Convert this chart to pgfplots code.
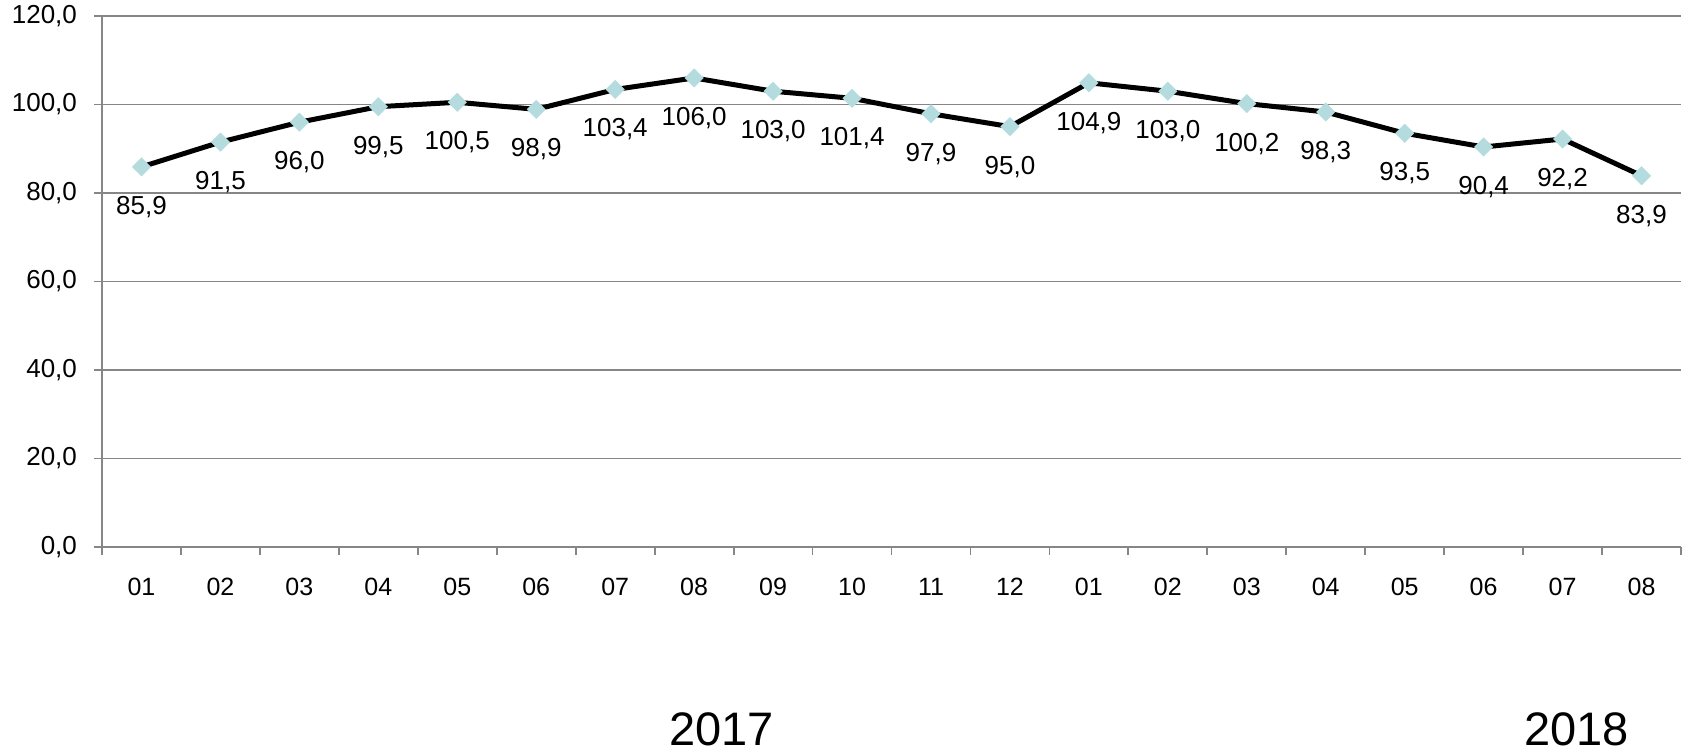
\documentclass[border=0pt]{standalone}
\usepackage{pgfplots}
\pgfplotsset{compat=1.18}
\usepackage{fontspec}
\setmainfont{Liberation Sans}
\definecolor{gridgray}{HTML}{868686}
\definecolor{mk}{HTML}{B4DCDF}
\begin{document}
\begin{tikzpicture}
\begin{axis}[
  scale only axis,
  width=789.5pt, height=265.5pt,
  xmin=0.5, xmax=20.5, ymin=0, ymax=120,
  axis x line*=bottom, axis y line*=left,
  axis line style={gridgray, line width=0.9pt, -},
  ytick={0,20,...,120},
  ymajorgrids, grid style={gridgray, line width=0.9pt},
  xtick={1,...,20},
  xticklabels={01,02,03,04,05,06,07,08,09,10,11,12,01,02,03,04,05,06,07,08},
  major x tick style={draw=none},
  minor xtick={0.5,1.5,...,20.5},
  minor x tick style={gridgray, line width=0.9pt},
  major y tick style={gridgray, line width=0.9pt},
  tick align=outside,
  major tick length=4pt, minor tick length=4pt,
  /pgf/number format/assume math mode=true,
  yticklabel style={/pgf/number format/.cd, fixed, zerofill, precision=1, use comma, /tikz/.cd, font=\fontsize{13}{15}\selectfont, xshift=-5pt},
  xticklabel style={font=\fontsize{12.5}{15}\selectfont, yshift=-8pt},
  nodes near coords,
  nodes near coords style={/pgf/number format/.cd, fixed, zerofill, precision=1, use comma, /tikz/.cd, font=\fontsize{13}{15}\selectfont, anchor=center, yshift=-20pt, text=black},
  clip=false,
]
\addplot[black, line width=2.5pt, mark=square*, mark size=3.3pt, mark options={rotate=45, fill=mk, draw=mk, line width=0.1pt}] coordinates {
(1,85.9) (2,91.5) (3,96.0) (4,99.5) (5,100.5) (6,98.9) (7,103.4) (8,106.0) (9,103.0) (10,101.4)
(11,97.9) (12,95.0) (13,104.9) (14,103.0) (15,100.2) (16,98.3) (17,93.5) (18,90.4) (19,92.2) (20,83.9)
};
\coordinate (SW) at (rel axis cs:0,0);
\coordinate (NE) at (rel axis cs:1,1);
\node[font=\fontsize{23.5}{26}\selectfont, inner sep=0pt] at ([yshift=-91pt]axis cs:8.35,0) {2017};
\node[font=\fontsize{23.5}{26}\selectfont, inner sep=0pt] at ([yshift=-91pt]axis cs:19.18,0) {2018};
\end{axis}
\path (SW) ++(-51pt,-103.5pt) coordinate (A);
\path (NE) ++(2pt,8pt) coordinate (B);
\pgfresetboundingbox
\path (A) rectangle (B);
\end{tikzpicture}
\end{document}
